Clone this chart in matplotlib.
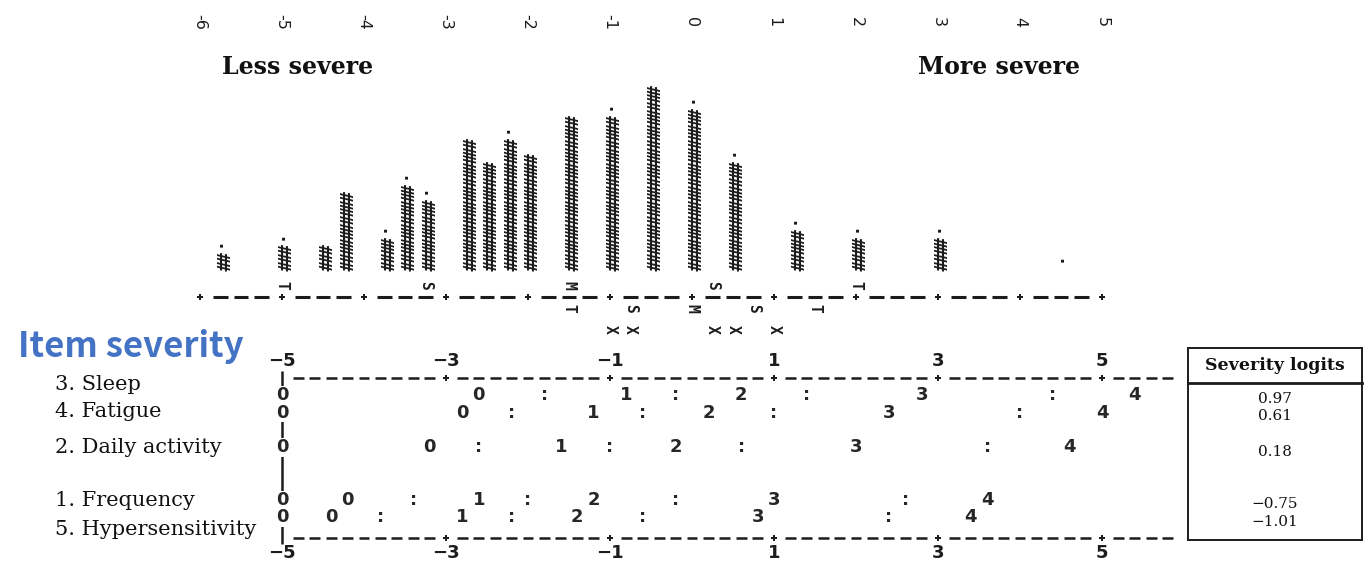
import numpy as np
import matplotlib
matplotlib.use("Agg")
from matplotlib import pyplot as plt
from matplotlib.patches import Rectangle

# Person side of the (rotated) Wright map: one column per 0.25 logit row,
# number of '#' in the column and whether a trailing '.' is printed.
person_logit = [-5.75, -5.0, -4.5, -4.25, -3.75, -3.5, -3.25, -2.75, -2.5, -2.25,
                -2.0, -1.5, -1.0, -0.5, 0.0, 0.5, 1.25, 2.0, 3.0, 4.5]
person_hash = [2, 3, 3, 10, 4, 11, 9, 17, 14, 17, 15, 20, 20, 24, 21, 14, 5, 4, 4, 0]
person_dot = [1, 1, 0, 0, 1, 1, 1, 0, 0, 1, 0, 0, 1, 0, 1, 1, 1, 1, 1, 1]
person_mean, person_sd = -1.5, 1.75
item_mean, item_sd = 0.0, 0.75
map_ticks = list(range(-6, 6))

items = ["3. Sleep", "4. Fatigue", "2. Daily activity", "1. Frequency",
         "5. Hypersensitivity"]
item_logit = [0.97, 0.61, 0.18, -0.75, -1.01]
# logits where the categories 0..4 and the ':' thresholds are printed
category_at = [[-2.6, -0.8, 0.6, 2.8, 5.4],
               [-2.8, -1.2, 0.2, 2.4, 5.0],
               [-3.2, -1.6, -0.2, 2.0, 4.6],
               [-4.2, -2.6, -1.2, 1.0, 3.6],
               [-4.4, -2.8, -1.4, 0.8, 3.4]]
threshold_at = [[-1.8, -0.2, 1.4, 4.4],
                [-2.2, -0.6, 1.0, 4.0],
                [-2.6, -1.0, 0.6, 3.6],
                [-3.4, -2.0, -0.2, 2.6],
                [-3.8, -2.2, -0.6, 2.4]]
item_ticks = [-5, -3, -1, 1, 3, 5]

W, H = 1372, 563
ZERO_PX, PX_PER_LOGIT = 692, 82
ink = '#1c1c1c'

fig = plt.figure(figsize=(W / 100, H / 100), dpi=100)
# layout layer in pixels, data layer in logits (same vertical scale)
lay = fig.add_axes([0, 0, 1, 1])
lay.set_xlim(0, W)
lay.set_ylim(H, 0)
lay.axis('off')
ax = fig.add_axes([0, 0, 1, 1])
ax.set_xlim(-ZERO_PX / PX_PER_LOGIT, (W - ZERO_PX) / PX_PER_LOGIT)
ax.set_ylim(H, 0)
ax.axis('off')
ax.patch.set_visible(False)

# ---- person map ----
AXIS_Y, HASH_BASE, STEP = 297, 270, 7.6
ticks = np.array(map_ticks)
quarter = (ticks[:-1, None] + np.array([0.25, 0.5, 0.75])).ravel()
ax.hlines(np.full(quarter.size, AXIS_Y), quarter - 0.09, quarter + 0.09,
          color=ink, lw=2.2)
ax.plot(ticks, np.full(ticks.size, AXIS_Y), 'P', ms=4.5, mew=0, color=ink)
for t in ticks:
    ax.text(t, 22, str(t), rotation=-90, ha='center', va='center',
            fontsize=11.5, color=ink)

# each '#' is stacked one character row above the previous one
hkw = dict(rotation=-90, ha='center', va='bottom', family='DejaVu Sans Mono',
           weight='bold', fontsize=12.5, color=ink)
for x, n, d in zip(person_logit, person_hash, person_dot):
    for i in range(n):
        ax.text(x, HASH_BASE - i * STEP, '#', **hkw)
    if d:
        ax.text(x, HASH_BASE - n * STEP - 1, '.', **hkw)

lkw = dict(rotation=-90, ha='center', va='center', family='DejaVu Sans Mono',
           weight='bold', fontsize=10.5, color=ink)
for k, lab in zip([-2, -1, 0, 1, 2], 'TSMST'):
    ax.text(person_mean + k * person_sd, 285, lab, **lkw)
    ax.text(item_mean + k * item_sd, 308, lab, **lkw)
for m in item_logit:
    ax.text(np.round(m * 4) / 4, 329, 'X', **lkw)

lay.text(222, 67, 'Less severe', va='center', family='DejaVu Serif',
         weight='bold', fontsize=17, color='#111')
lay.text(918, 67, 'More severe', va='center', family='DejaVu Serif',
         weight='bold', fontsize=17, color='#111')

# ---- item map ----
lay.text(18, 347, 'Item severity', va='center',
         family=['Noto Sans CJK KR', 'DejaVu Sans'], weight='bold',
         fontsize=25, color='#4472C4')

RULE_TOP, RULE_BOT = 378, 538
cols = np.round(np.arange(-4.8, 5.9, 0.2), 1)
dashes = cols[~np.isin(cols, item_ticks)]
for y in (RULE_TOP, RULE_BOT):
    ax.hlines(np.full(dashes.size, y), dashes - 0.065, dashes + 0.065,
              color=ink, lw=1.8)
    ax.plot(item_ticks[1:], np.full(len(item_ticks) - 1, y), 'P', ms=4.5,
            mew=0, color=ink)
tkw = dict(ha='center', va='center', fontsize=13, weight='bold', color=ink)
for t in item_ticks:
    lab = str(t).replace('-', '\u2212')
    ax.text(t, 361, lab, **tkw)
    ax.text(t, 553, lab, **tkw)

ax.vlines(item_ticks[0], 371, 544, color=ink, lw=1.8)
row_y = 395 + 17.5 * np.round((max(item_logit) - np.array(item_logit)) / 0.28)
label_nudge = [-11, -1, 0, 0, 12]

ckw = dict(ha='center', va='center', fontsize=13, weight='bold', color='#262626')
for i, y in enumerate(row_y):
    ax.text(item_ticks[0], y, '0', bbox=dict(fc='white', ec='none', pad=0.3), **ckw)
    for c, x in enumerate(category_at[i]):
        ax.text(x, y, str(c), **ckw)
    for x in threshold_at[i]:
        ax.text(x, y, ':', **ckw)
    lay.text(55, y + label_nudge[i], items[i], va='center', family='DejaVu Serif',
             fontsize=15, color='#111')

# severity table
lay.add_patch(Rectangle((1188, 348), 174, 192, fill=False, ec=ink, lw=1.4))
lay.plot([1188, 1362], [383, 383], color=ink, lw=2)
lay.text(1275, 366, 'Severity logits', ha='center', va='center',
         family='DejaVu Serif', weight='bold', fontsize=12.5, color='#111')
for y, m in zip(row_y, item_logit):
    lay.text(1275, y + 4, f"{m:.2f}".replace('-', '\u2212'), ha='center',
             va='center', family='DejaVu Serif', fontsize=11, color='#111')

fig.savefig('out.png', dpi=100)
